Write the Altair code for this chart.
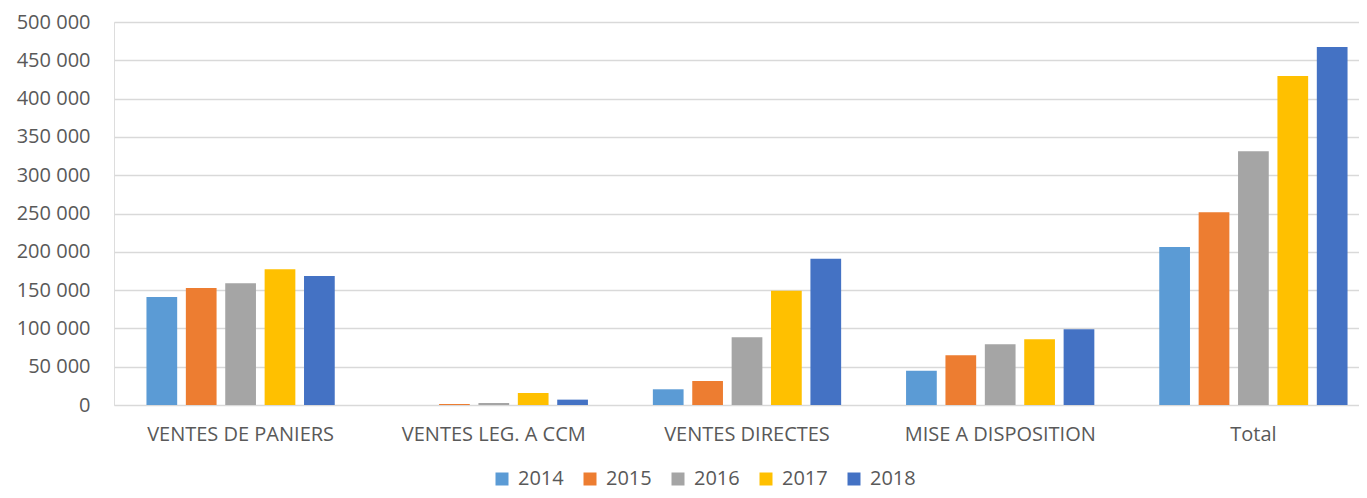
import altair as alt
import pandas as pd

categories = ["VENTES DE PANIERS", "VENTES LEG. A CCM", "VENTES DIRECTES", "MISE A DISPOSITION", "Total"]
years = ["2014", "2015", "2016", "2017", "2018"]
v2014 = [141000, 0, 20500, 44800, 206300]
v2015 = [152700, 1300, 31300, 64800, 251600]
v2016 = [158900, 2600, 88300, 79200, 331200]
v2017 = [177100, 15700, 149200, 85700, 429500]
v2018 = [168400, 7000, 191000, 98800, 467400]
colors = ["#5B9BD5", "#ED7D31", "#A5A5A5", "#FFC000", "#4472C4"]

series = [v2014, v2015, v2016, v2017, v2018]
rows = []
for y, vals in zip(years, series):
    for c, v in zip(categories, vals):
        rows.append({"cat": c, "year": y, "value": v})
df = pd.DataFrame(rows)

FONT = "Open Sans"
TXT = "#595959"

chart = alt.Chart(df).mark_bar().encode(
    x=alt.X("cat:N", sort=categories, title=None,
            scale=alt.Scale(paddingInner=0, paddingOuter=0, range=[0, 1266]),
            axis=alt.Axis(labelAngle=0, domain=False, ticks=False, labelPadding=19,
                          labelLimit=400,
                          labelFontSize=20, labelColor=TXT, labelFont=FONT)),
    xOffset=alt.XOffset("year:N", sort=years,
                        scale=alt.Scale(paddingInner=0.22, paddingOuter=0.824)),
    y=alt.Y("value:Q", title=None,
            scale=alt.Scale(domain=[0, 500000], nice=False),
            axis=alt.Axis(values=list(range(0, 500001, 50000)), domain=False, ticks=False,
                          labelPadding=24,
                          labelFontSize=20, labelColor=TXT, labelFont=FONT,
                          labelExpr="datum.value >= 1000 ? floor(datum.value/1000) + ' 000' : '0'",
                          gridColor="#D9D9D9", gridWidth=1.5)),
    color=alt.Color("year:N", sort=years, title=None,
                    scale=alt.Scale(domain=years, range=colors),
                    legend=alt.Legend(orient="none", legendX=378, legendY=447,
                                      direction="horizontal", symbolType="square",
                                      symbolSize=169, symbolStrokeWidth=0,
                                      labelFontSize=20, labelColor=TXT, labelFont=FONT,
                                      labelOffset=6, columnPadding=16, padding=0)),
).properties(
    width=1245, height=383,
    autosize=alt.AutoSizeParams(type="none"),
    padding={"left": 106, "top": 14, "right": 0, "bottom": 85}
).configure_view(stroke=None).configure(background="white")

chart.save("out.html", embed_options={"renderer": "svg", "actions": False})
